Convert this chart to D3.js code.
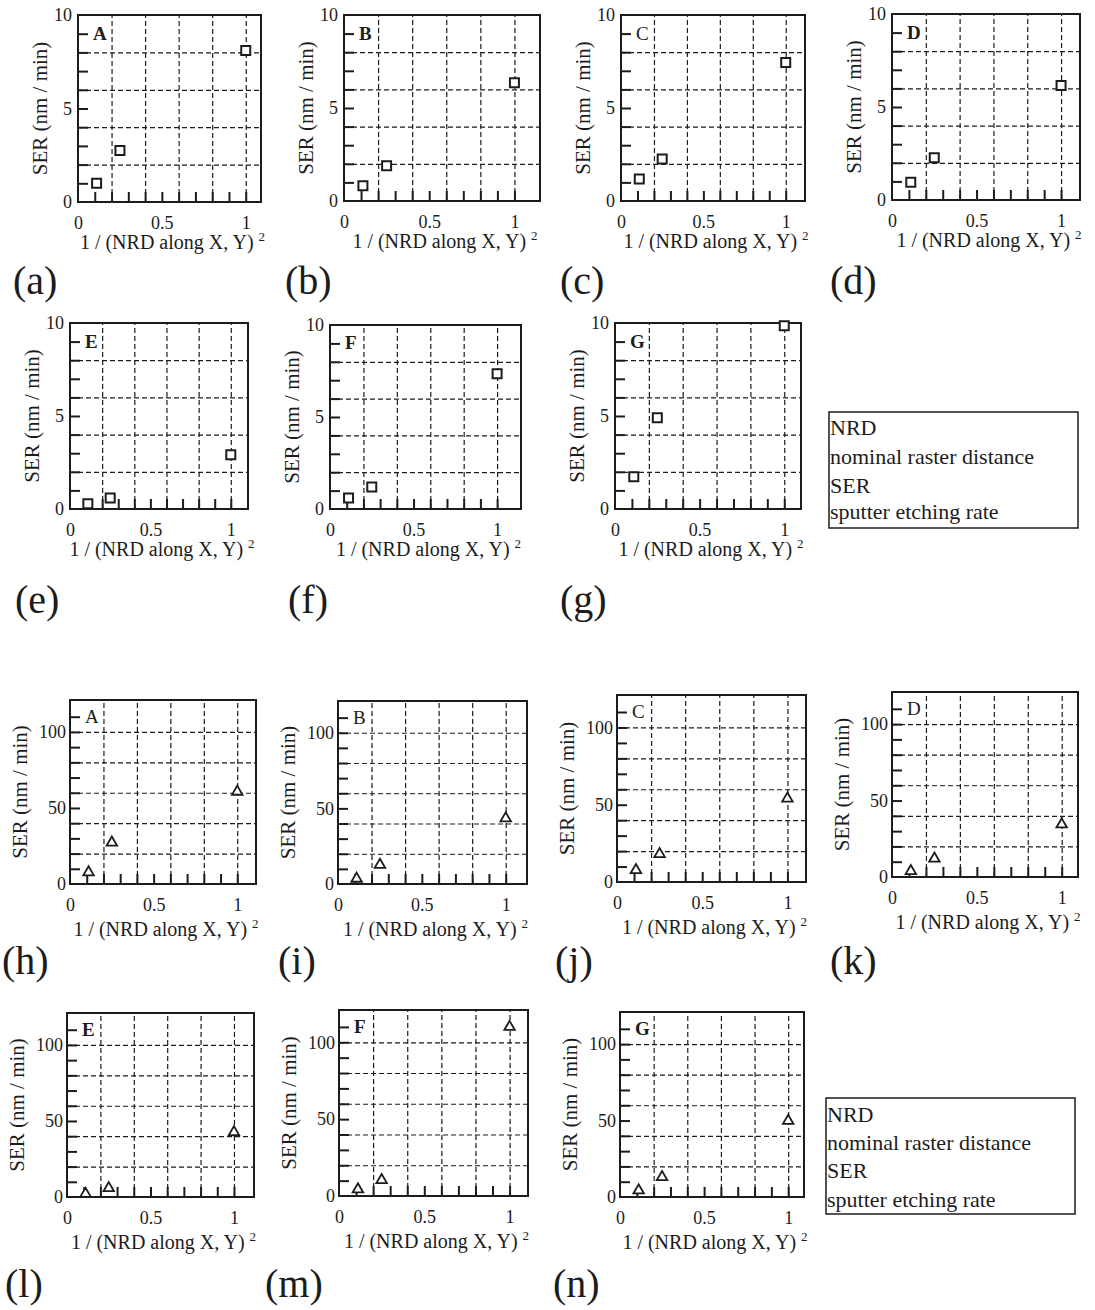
<!DOCTYPE html>
<html><head><meta charset="utf-8">
<script src="https://cdn.jsdelivr.net/npm/d3@7"></script>
<style>
body{margin:0;background:#fff}
svg{display:block}
text{font-family:"Liberation Serif","Times New Roman",serif;fill:#1c1c1c}
</style>
</head><body>
<svg id="c" width="1095" height="1310"></svg>
<script>
// ---------------- data ----------------
const xValues = [0.111, 0.25, 1.0];           // 1/(NRD)^2 for NRD = 3, 2, 1
const upperLetters = ["A","B","C","D","E","F","G"];
const upperTags = ["(a)","(b)","(c)","(d)","(e)","(f)","(g)"];
const serUpperA = [1.0, 2.75, 8.1];
const serUpperB = [0.82, 1.9, 6.36];
const serUpperC = [1.18, 2.26, 7.45];
const serUpperD = [0.95, 2.27, 6.15];
const serUpperE = [0.28, 0.59, 2.92];
const serUpperF = [0.6, 1.19, 7.35];
const serUpperG = [1.74, 4.9, 9.85];
const lowerLetters = ["A","B","C","D","E","F","G"];
const lowerTags = ["(h)","(i)","(j)","(k)","(l)","(m)","(n)"];
const serLowerA = [7.7, 27.2, 60.7];
const serLowerB = [3.5, 12.7, 43.4];
const serLowerC = [7.7, 18.1, 54.0];
const serLowerD = [3.9, 12.0, 34.4];
const serLowerE = [2.1, 5.8, 42.6];
const serLowerF = [4.3, 10.4, 110.0];
const serLowerG = [4.3, 13.0, 49.8];
const xTickLabels = [0, 0.5, 1];
const xGrid = [0.2, 0.4, 0.6, 0.8, 1.0];
const xMinor = [0.1,0.2,0.3,0.4,0.5,0.6,0.7,0.8,0.9,1.0];
const yTickLabelsUpper = [0, 5, 10];
const yGridUpper = [2, 4, 6, 8];
const yMinorUpper = [1,2,3,4,5,6,7,8,9];
const yTickLabelsLower = [0, 50, 100];
const yGridLower = [20, 40, 60, 80, 100];
const yMinorLower = [10,20,30,40,50,60,70,80,90,100,110];
const yTopUpper = 10, yTopLower = 121;
const xAxisTitle = "1 / (NRD along X, Y) ";
const xAxisSup = "2";
const yAxisTitle = "SER (nm / min)";
const legendLines = ["NRD", "nominal raster distance", "SER", "sputter etching rate"];

const upperSeries = [serUpperA, serUpperB, serUpperC, serUpperD, serUpperE, serUpperF, serUpperG];
const lowerSeries = [serLowerA, serLowerB, serLowerC, serLowerD, serLowerE, serLowerF, serLowerG];

// ---------------- layout ----------------
const framesUpper = [
  {l:78, t:15, r:261, b:202, xMax:1.091},
  {l:344, t:15, r:540, b:201, xMax:1.15},
  {l:621, t:15, r:805, b:201, xMax:1.117},
  {l:892, t:14, r:1080, b:200, xMax:1.112},
  {l:70, t:323, r:248, b:509, xMax:1.107},
  {l:330, t:325, r:521, b:509, xMax:1.143},
  {l:615, t:323, r:801, b:509, xMax:1.099}
];
const framesLower = [
  {l:70, t:700, r:256, b:884, xMax:1.112},
  {l:338, t:701, r:527, b:884, xMax:1.127},
  {l:617, t:695, r:806, b:882, xMax:1.109},
  {l:892, t:692, r:1078, b:877, xMax:1.096},
  {l:67, t:1013, r:254, b:1197, xMax:1.12},
  {l:339, t:1010, r:528, b:1196, xMax:1.108},
  {l:620, t:1012, r:804, b:1197, xMax:1.094}
];
const tagPosUpper = [[13,294],[285,294],[560,294],[830,294],[15,613],[288,613],[560,613]];
const tagPosLower = [[2,974],[278,974],[555,974],[830,974],[5,1297],[265,1297],[553,1297]];
const legendBoxes = [{x:829, y:412, w:249, h:116, base:[435,464,493,519]},
                     {x:826, y:1098, w:249, h:116, base:[1122,1150,1178,1207]}];

const ink = "#1c1c1c";
const svg = d3.select("#c");

function panel(f, yTop, yLabels, yGrid, yMinor, vals, marker, letter, letterY, bold, opts) {
  const g = svg.append("g");
  const x = d3.scaleLinear().domain([0, f.xMax]).range([f.l, f.r]);
  const y = d3.scaleLinear().domain([0, yTop]).range([f.b, f.t]);
  const w = f.r - f.l, h = f.b - f.t;

  // dashed grid
  const gx = g.append("g").attr("transform", `translate(0,${f.b})`)
    .call(d3.axisBottom(x).tickValues(xGrid).tickSize(-h).tickFormat(""));
  const gy = g.append("g").attr("transform", `translate(${f.l},0)`)
    .call(d3.axisLeft(y).tickValues(yGrid).tickSize(-w).tickFormat(""));
  [gx, gy].forEach(a => {
    a.select(".domain").remove();
    a.selectAll("line").attr("stroke", ink).attr("stroke-width", 1.2).attr("stroke-dasharray", "5,3");
  });

  // inward minor ticks
  const mx = g.append("g").attr("transform", `translate(0,${f.b})`)
    .call(d3.axisBottom(x).tickValues(xMinor).tickSize(-10).tickFormat(""));
  const my = g.append("g").attr("transform", `translate(${f.l},0)`)
    .call(d3.axisLeft(y).tickValues(yMinor).tickSize(-10).tickFormat(""));
  [mx, my].forEach(a => {
    a.select(".domain").remove();
    a.selectAll("line").attr("stroke", ink).attr("stroke-width", 2);
  });

  // tick labels
  const lx = g.append("g").attr("transform", `translate(0,${f.b})`)
    .call(d3.axisBottom(x).tickValues(xTickLabels).tickSize(0).tickPadding(10).tickFormat(d3.format("")));
  const ly = g.append("g").attr("transform", `translate(${f.l},0)`)
    .call(d3.axisLeft(y).tickValues(yLabels).tickSize(0).tickPadding(opts.yPad).tickFormat(d3.format("")));
  [lx, ly].forEach(a => {
    a.select(".domain").remove();
    a.selectAll("text").attr("font-size", 18).attr("font-family", '"Liberation Serif", serif').attr("fill", ink);
  });
  lx.selectAll("text").attr("dy", "0.95em");

  // frame
  g.append("rect").attr("x", f.l).attr("y", f.t).attr("width", w).attr("height", h)
    .attr("fill", "none").attr("stroke", ink).attr("stroke-width", 2);

  // letter
  g.append("text").attr("x", f.l + 15).attr("y", y(letterY) + 6)
    .attr("font-size", 19).attr("font-weight", bold ? "bold" : "normal").text(letter);

  // markers
  const sym = d3.symbol().type(marker === "square" ? d3.symbolSquare : d3.symbolTriangle)
    .size(marker === "square" ? 81 : 48);
  g.selectAll("path.m").data(vals).join("path").attr("class", "m")
    .attr("d", sym)
    .attr("transform", (d, i) => `translate(${x(xValues[i])},${y(d)})`)
    .attr("fill", "#fff").attr("stroke", ink).attr("stroke-width", marker === "square" ? 2 : 1.8);

  // axis titles
  g.append("text")
    .attr("transform", `translate(${f.l - opts.yTitle},${(f.t + f.b) / 2}) rotate(-90)`)
    .attr("text-anchor", "middle").attr("font-family", '"Liberation Sans", Arial, sans-serif')
    .attr("font-size", 21).text(yAxisTitle);
  const xt = g.append("text").attr("x", (f.l + f.r) / 2 + 3).attr("y", f.b + opts.xTitle)
    .attr("text-anchor", "middle").attr("font-size", 20);
  xt.append("tspan").text(xAxisTitle);
  xt.append("tspan").attr("font-size", 13).attr("dy", -8).text(xAxisSup);
}

upperSeries.forEach((vals, i) => {
  panel(framesUpper[i], yTopUpper, yTickLabelsUpper, yGridUpper, yMinorUpper, vals, "square",
        upperLetters[i], 9, upperLetters[i] !== "C", {yPad: 6, yTitle: 31, xTitle: 47});
  svg.append("text").attr("x", tagPosUpper[i][0]).attr("y", tagPosUpper[i][1])
    .attr("font-size", 40).text(upperTags[i]);
});
lowerSeries.forEach((vals, i) => {
  panel(framesLower[i], yTopLower, yTickLabelsLower, yGridLower, yMinorLower, vals, "triangle",
        lowerLetters[i], 110, i >= 4, {yPad: 4, yTitle: 43, xTitle: 52});
  svg.append("text").attr("x", tagPosLower[i][0]).attr("y", tagPosLower[i][1])
    .attr("font-size", 40).text(lowerTags[i]);
});

// legend boxes
legendBoxes.forEach(bx => {
  svg.append("rect").attr("x", bx.x).attr("y", bx.y).attr("width", bx.w).attr("height", bx.h)
    .attr("fill", "none").attr("stroke", ink).attr("stroke-width", 1.5);
  svg.selectAll(null).data(legendLines).join("text")
    .attr("x", bx.x + 1).attr("y", (d, i) => bx.base[i]).attr("font-size", 22).text(d => d);
});
</script>
</body></html>
